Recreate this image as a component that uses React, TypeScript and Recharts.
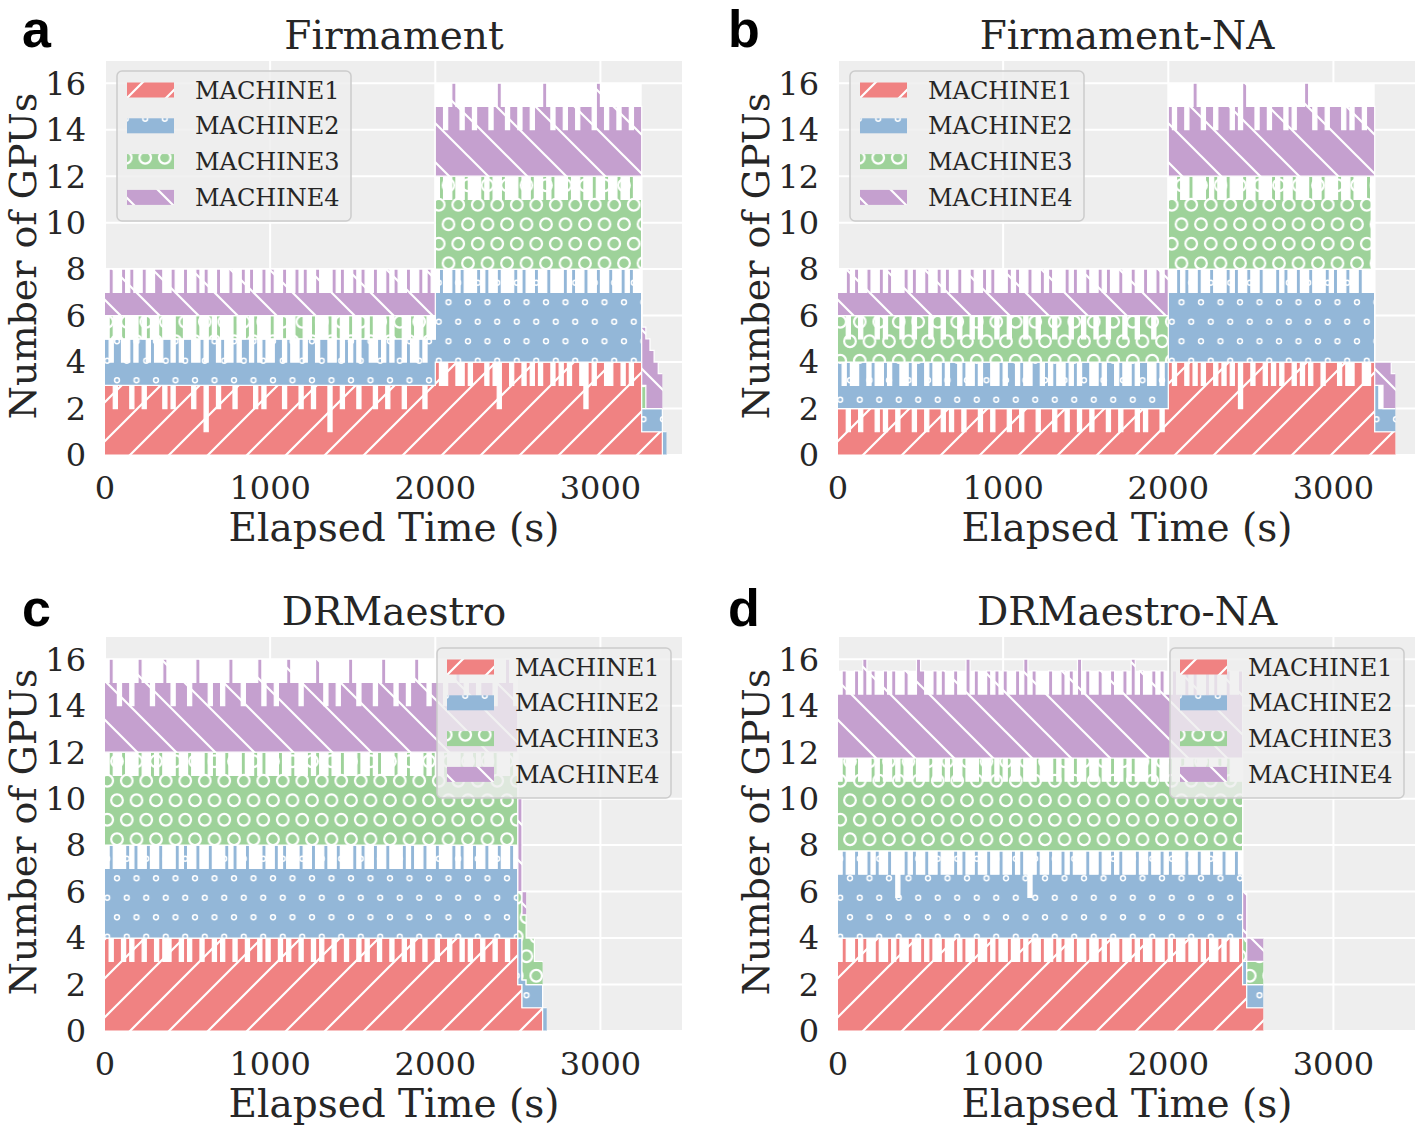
import React from 'react';
import { AreaChart, Area, XAxis, YAxis, CartesianGrid } from 'recharts';

const STEP = 25;
const X_TICKS = [0, 1000, 2000, 3000];
const Y_TICKS = [0, 2, 4, 6, 8, 10, 12, 14, 16];
const MACHINES = ['MACHINE1', 'MACHINE2', 'MACHINE3', 'MACHINE4'];
const COLORS = ['#F08282', '#93B7D8', '#9ED29A', '#C5A0CF'];
const TITLES = ['Firmament', 'Firmament-NA', 'DRMaestro', 'DRMaestro-NA'];
const LETTERS = ['a', 'b', 'c', 'd'];

// ---------- Panel a: Firmament (top of each machine band, every 25 s) ----------
const A_M1 = [
  3,3,2,3,3,3,2,3,3,2, 3,3,3,3,2,3,2,3,3,3, 3,2,3,3,1,3,3,2,3,3, 3,2,3,3,3,3,2,3,2,3,
  3,3,3,2,3,3,3,2,3,3, 2,3,3,3,1,3,3,2,3,3, 3,2,3,3,3,2,3,3,2,3, 3,3,2,3,3,3,3,2,3,3,
  4,3,3,4,4,3,3,4,3,4, 4,4,3,4,3,2,4,4,3,4, 4,3,4,3,4,3,4,4,3,4, 3,4,3,4,4,3,2,4,3,4,
  4,3,3,4,4,3,4,3,4,4,
  1,1,1,1,1,1,null,
];
const A_M2 = [
  5,4,5,5,4,4,5,4,5,5, 4,5,4,4,5,5,4,5,4,5, 5,4,4,5,4,5,5,4,5,4, 4,5,4,5,5,4,5,4,5,4,
  4,5,5,4,5,4,4,5,4,5, 5,4,5,5,4,4,5,4,5,4, 5,4,5,5,4,4,5,4,5,4, 5,5,4,5,4,4,5,4,5,5,
  7,8,7,7,8,7,8,7,7,7, 8,7,8,7,7,8,7,7,7,8, 7,8,7,7,8,7,7,8,7,7, 7,8,7,8,7,7,8,7,7,8,
  7,7,8,7,7,8,7,8,7,7,
  2,2,2,2,2,1,1,
];
const A_M3 = [
  5,6,5,5,6,5,5,5,6,5, 6,5,5,6,5,5,5,6,6,5, 5,5,6,5,5,6,5,6,5,5, 5,6,5,5,6,5,6,5,5,5,
  6,5,5,6,5,5,6,6,5,5, 6,5,5,5,6,5,6,5,5,6, 5,5,6,5,6,5,5,5,6,5, 6,6,5,5,6,5,5,6,5,5,
  11,12,11,11,12,11,11,12,11,11, 11,12,11,12,11,11,12,11,11,11, 12,11,11,12,11,11,12,11,12,11,
  11,11,12,11,11,12,11,11,12,11, 11,12,11,11,12,11,11,12,11,11,
  3,3,null,null,null,null,null,
];
const A_M4 = [
  7,8,7,7,8,7,8,7,7,8, 7,7,8,8,7,7,8,7,7,8, 7,7,8,7,8,7,7,8,7,7, 8,7,7,8,7,8,7,7,8,7,
  8,7,7,8,7,7,8,7,8,7, 7,8,7,7,7,8,7,8,7,7, 8,7,8,7,7,8,7,7,8,7, 8,7,7,8,7,7,8,7,8,7,
  15,15,14,15,16,15,14,15,15,14, 15,15,15,14,15,16,15,14,15,15, 14,15,15,14,15,15,16,15,14,15,
  15,14,15,15,14,15,15,15,14,16, 15,14,15,15,14,15,15,14,15,15,
  5.5,5,4.5,4,3.5,3.5,null,
];
// band bottoms as [time, value] change points
const A_LO = [[[0, 0]], [[0, 3], [2000, 4], [3250, 1], [3375, 0]], [[0, 5], [2000, 8], [3250, 2]], [[0, 6], [2000, 12], [3250, 3], [3275, 2]]];
const A_UNDER = [[0, 8], [2000, 16], [3250, 5.5], [3275, 5], [3300, 4.5], [3325, 4], [3350, 3.5], [3375, 1]];

// ---------- Panel b: Firmament-NA ----------
const B_M1 = [
  2,2,1,2,2,1,2,2,2,1, 2,1,2,2,1,2,2,2,1,2, 2,1,2,2,2,1,2,1,2,2, 1,2,2,2,1,2,2,1,2,2,
  2,1,2,2,1,2,2,2,1,2, 2,2,1,2,2,1,2,2,1,2, 2,1,2,2,2,1,2,2,1,2, 2,2,1,2,1,2,2,2,1,2,
  4,3,4,4,3,4,3,4,3,4, 4,3,4,3,4,3,4,2,4,4, 3,4,4,3,4,3,4,3,4,4, 3,4,3,4,3,4,4,3,4,4,
  4,3,4,3,3,4,4,3,3,4,
  1,1,1,1,1,1,null,
];
const B_M2 = [
  4,3,4,3,3,4,4,3,4,3, 3,4,3,4,4,3,3,4,3,4, 4,3,4,3,3,4,3,4,4,3, 4,3,3,4,3,4,4,3,3,4,
  3,4,4,3,4,3,3,4,4,3, 4,3,4,3,3,4,3,4,3,4, 4,3,3,4,3,4,4,3,4,3, 3,4,3,4,4,3,3,4,3,4,
  7,7,8,7,8,7,7,8,7,7, 8,7,7,7,8,7,8,7,7,8, 7,7,8,7,7,7,8,7,8,7, 7,8,7,7,8,7,7,7,8,7,
  8,7,7,8,7,7,8,7,7,7,
  3,2,2,2,2,2,null,
];
const B_M3 = [
  6,6,5,6,6,5,6,6,6,5, 6,5,6,6,6,5,6,6,5,6, 6,6,5,6,6,5,6,6,6,5, 6,6,5,6,5,6,6,6,5,6,
  6,5,6,6,6,5,6,6,5,6, 6,6,5,6,6,6,5,6,6,5, 6,6,5,6,6,5,6,6,6,5, 6,6,5,6,6,6,5,6,6,6,
  11,11,12,11,11,12,11,11,11,12, 11,12,11,11,12,11,11,11,12,11, 11,12,11,11,11,12,11,12,11,11,
  12,11,11,11,12,11,11,12,11,11, 11,12,11,11,12,11,11,11,12,11,
  null,null,null,null,null,null,null,
];
const B_M4 = [
  7,7,8,7,8,7,7,8,7,7, 8,7,8,7,7,7,8,7,8,7, 7,8,7,7,8,7,8,7,7,8, 7,7,8,7,7,8,7,8,7,7,
  7,8,7,8,7,7,8,7,7,8, 7,8,7,7,7,8,7,8,7,7, 8,7,7,8,7,8,7,7,8,7, 7,8,7,7,8,7,7,8,7,8,
  15,14,15,15,14,15,16,15,14,15, 15,14,15,15,15,14,15,14,16,15, 15,14,15,15,14,15,15,15,14,15,
  14,15,15,16,15,14,15,15,14,15, 15,15,14,15,14,15,15,14,15,15,
  4,4,4,4,3.5,3.5,null,
];
const B_LO = [[[0, 0]], [[0, 2], [2000, 4], [3250, 1]], [[0, 4], [2000, 8]], [[0, 6], [2000, 12], [3250, 3], [3300, 2]]];
const B_UNDER = [[0, 8], [2000, 16], [3250, 4], [3350, 3.5]];

// ---------- Panel c: DRMaestro ----------
const C_M1 = [
  4,3,4,4,3,4,3,4,4,3, 4,4,3,4,3,3,4,4,3,4, 3,4,4,3,4,4,3,4,3,4, 4,3,4,4,3,4,4,3,4,3,
  4,4,3,4,3,4,4,3,4,4, 3,4,3,4,4,3,4,4,3,4, 4,3,4,3,4,4,3,4,4,3, 4,4,3,4,3,4,4,3,4,4,
  3,4,4,3,4,4,3,4,3,4, 4,3,4,4,3,4,4,3,4,4,
  2,1,1,1,1,1,1,null,
];
const C_M2 = [
  7,8,7,7,7,8,7,8,7,7, 8,7,7,8,7,7,7,8,7,8, 7,7,8,7,7,8,7,7,7,8, 7,8,7,7,8,7,7,7,8,7,
  7,8,7,8,7,7,7,8,7,7, 8,7,7,8,7,7,8,7,7,7, 8,7,8,7,7,8,7,7,8,7, 7,7,8,7,8,7,7,8,7,7,
  8,7,7,7,8,7,8,7,7,8, 7,7,8,7,7,8,7,7,8,7,
  4,2.2,2,2,2,2,1,1,
];
const C_M3 = [
  11,12,11,11,12,11,11,11,12,11, 11,12,11,12,11,11,11,12,11,11, 12,11,11,11,12,11,12,11,11,12,
  11,11,11,12,11,11,12,11,12,11, 11,11,12,11,11,12,11,11,11,12, 11,12,11,11,12,11,11,12,11,11,
  11,12,11,11,12,11,12,11,11,11, 12,11,11,12,11,11,11,12,11,12, 11,11,12,11,11,11,12,11,11,12,
  11,12,11,11,12,11,11,11,12,11,
  6,5,4,4,3,3,3,null,
];
const C_M4 = [
  15,16,15,14,15,15,14,15,16,15, 15,14,15,15,16,15,14,15,15,15, 14,15,16,15,15,14,15,15,14,15,
  16,15,15,14,15,15,15,16,14,15, 15,14,15,15,16,15,15,14,15,15, 15,16,15,14,15,15,14,15,15,16,
  15,14,15,15,15,14,15,16,15,15, 14,15,15,14,15,16,15,15,14,15, 15,15,14,15,15,16,15,14,15,15,
  14,15,15,15,14,15,15,16,15,14,
  10,6,6,null,null,null,null,null,
];
const C_LO = [[[0, 0]], [[0, 4], [2500, 2], [2525, 1], [2650, 0]], [[0, 8], [2500, 4], [2525, 2.2], [2550, 2]], [[0, 12], [2500, 6], [2525, 5]]];
const C_UNDER = [[0, 16], [2500, 10], [2525, 6], [2550, 4], [2600, 3], [2650, 1]];

// ---------- Panel d: DRMaestro-NA ----------
const D_M1 = [
  3,4,3,3,4,3,4,3,3,4, 3,3,4,3,4,3,3,4,3,3, 4,3,4,3,3,4,3,3,4,3, 4,3,3,4,3,3,4,3,4,3,
  3,4,3,3,4,3,4,3,3,4, 3,3,4,3,4,3,3,4,3,3, 4,3,3,4,3,4,3,3,4,3, 3,4,3,4,3,3,4,3,3,4,
  3,4,3,3,4,3,3,4,3,4, 3,3,4,3,4,3,3,4,
  2,1,1,1,1,1,
];
const D_M2 = [
  6.75,7.75,6.75,6.75,7.75,6.75,6.75,7.75,6.75,7.75, 6.75,6.75,7.75,6.75,5.75,6.75,7.75,6.75,7.75,6.75,
  6.75,7.75,6.75,6.75,7.75,6.75,6.75,6.75,7.75,6.75, 7.75,6.75,6.75,7.75,6.75,6.75,7.75,6.75,6.75,7.75,
  6.75,6.75,7.75,6.75,7.75,6.75,5.75,6.75,7.75,6.75, 6.75,7.75,6.75,6.75,7.75,6.75,7.75,6.75,6.75,6.75,
  7.75,6.75,6.75,7.75,6.75,6.75,7.75,6.75,7.75,6.75, 6.75,6.75,7.75,6.75,6.75,7.75,6.75,6.75,7.75,6.75,
  7.75,6.75,6.75,6.75,7.75,6.75,6.75,7.75,6.75,6.75, 7.75,6.75,6.75,7.75,6.75,6.75,7.75,6.75,
  3,2,2,2,2,2,
];
const D_M3 = [
  10.75,11.75,10.75,10.75,11.75,10.75,10.75,10.75,11.75,10.75, 11.75,10.75,10.75,11.75,10.75,11.75,10.75,10.75,11.75,10.75,
  10.75,10.75,11.75,10.75,10.75,11.75,10.75,11.75,10.75,10.75, 11.75,10.75,10.75,10.75,11.75,10.75,10.75,11.75,10.75,11.75,
  10.75,11.75,10.75,10.75,11.75,10.75,10.75,10.75,11.75,10.75, 10.75,10.75,11.75,10.75,11.75,10.75,10.75,11.75,10.75,10.75,
  11.75,10.75,10.75,11.75,10.75,10.75,11.75,10.75,10.75,11.75, 10.75,11.75,10.75,10.75,10.75,11.75,10.75,11.75,10.75,10.75,
  11.75,10.75,10.75,11.75,10.75,10.75,11.75,10.75,10.75,11.75, 10.75,10.75,11.75,10.75,11.75,10.75,10.75,10.75,
  4,3,3,3,3,3,
];
const D_M4 = [
  14.5,15.5,14.5,14.5,15.5,14.5,16,14.5,15.5,14.5, 14.5,15.5,14.5,15.5,14.5,14.5,15.5,14.5,14.5,16,
  15.5,14.5,14.5,15.5,14.5,15.5,14.5,14.5,15.5,14.5, 14.5,16,14.5,15.5,14.5,14.5,15.5,14.5,15.5,14.5,
  15.5,14.5,14.5,15.5,14.5,16,14.5,15.5,14.5,14.5, 14.5,15.5,14.5,14.5,15.5,14.5,15.5,14.5,16,14.5,
  15.5,14.5,14.5,15.5,14.5,14.5,15.5,14.5,14.5,15.5, 14.5,16,14.5,15.5,14.5,14.5,15.5,14.5,15.5,14.5,
  14.5,15.5,14.5,14.5,16,14.5,15.5,14.5,14.5,15.5, 14.5,15.5,14.5,14.5,15.5,14.5,14.5,15.5,
  6,4,4,4,4,4,
];
const D_LO = [[[0, 0]], [[0, 4], [2450, 2], [2475, 1]], [[0, 7.75], [2450, 3], [2475, 2]], [[0, 11.75], [2450, 4], [2475, 3]]];
const D_UNDER = [[0, 15.5], [2450, 6], [2475, 4]];

const PANELS = [
  { id: 'a', left: 0, top: 0, hi: [A_M1, A_M2, A_M3, A_M4], lo: A_LO, under: A_UNDER, underEnd: 3375, legend: [117, 71] },
  { id: 'b', left: 733, top: 0, hi: [B_M1, B_M2, B_M3, B_M4], lo: B_LO, under: B_UNDER, underEnd: 3375, legend: [117, 71] },
  { id: 'c', left: 0, top: 576, hi: [C_M1, C_M2, C_M3, C_M4], lo: C_LO, under: C_UNDER, underEnd: 2675, legend: [437, 72] },
  { id: 'd', left: 733, top: 576, hi: [D_M1, D_M2, D_M3, D_M4], lo: D_LO, under: D_UNDER, underEnd: 2575, legend: [437, 72] },
];

function lookup(changes: number[][], t: number): number {
  let v = changes[0][1];
  for (const c of changes) if (t >= c[0]) v = c[1];
  return v;
}

function buildRows(p: any) {
  const n = p.hi[0].length;
  const rows: any[] = [];
  for (let i = 0; i < n; i++) {
    const t = i * STEP;
    const row: any = { t };
    row.u = t <= p.underEnd ? [0, lookup(p.under, t)] : null;
    p.hi.forEach((h: (number | null)[], k: number) => {
      const v = h[i];
      row['m' + k] = v == null ? null : [lookup(p.lo[k], t), v];
    });
    rows.push(row);
  }
  return rows;
}

function patterns(prefix: string) {
  return [
    <pattern key="p0" id={prefix + '0'} patternUnits="userSpaceOnUse" width={39} height={39}>
      <rect width={39} height={39} fill={COLORS[0]} />
      <path d="M-9.75,9.75L9.75,-9.75M0,39L39,0M29.25,48.75L48.75,29.25" stroke="#fff" strokeWidth={2.2} />
    </pattern>,
    <pattern key="p1" id={prefix + '1'} patternUnits="userSpaceOnUse" width={19.5} height={39}>
      <rect width={19.5} height={39} fill={COLORS[1]} />
      <circle cx={9.75} cy={9.75} r={2.4} fill="none" stroke="#fff" strokeWidth={1.5} />
      <circle cx={0} cy={29.25} r={2.4} fill="none" stroke="#fff" strokeWidth={1.5} />
      <circle cx={19.5} cy={29.25} r={2.4} fill="none" stroke="#fff" strokeWidth={1.5} />
    </pattern>,
    <pattern key="p2" id={prefix + '2'} patternUnits="userSpaceOnUse" width={19.5} height={39}>
      <rect width={19.5} height={39} fill={COLORS[2]} />
      <circle cx={9.75} cy={9.75} r={5.8} fill="none" stroke="#fff" strokeWidth={2.2} />
      <circle cx={0} cy={29.25} r={5.8} fill="none" stroke="#fff" strokeWidth={2.2} />
      <circle cx={19.5} cy={29.25} r={5.8} fill="none" stroke="#fff" strokeWidth={2.2} />
    </pattern>,
    <pattern key="p3" id={prefix + '3'} patternUnits="userSpaceOnUse" width={39} height={39}>
      <rect width={39} height={39} fill={COLORS[3]} />
      <path d="M-9.75,29.25L9.75,48.75M0,0L39,39M29.25,-9.75L48.75,9.75" stroke="#fff" strokeWidth={2.2} />
    </pattern>,
  ];
}

const TICK_STYLE = { fontSize: 32, fill: '#262626', fontFamily: 'DejaVu Serif' };

function LegendBox({ id, x, y }: { id: string; x: number; y: number }) {
  const pre = 'lg' + id;
  return (
    <svg width={238} height={154} style={{ position: 'absolute', left: x - 1, top: y - 1 }}>
      <defs>{patterns(pre)}</defs>
      <rect x={1} y={1} width={234} height={150} rx={5} fill="rgba(238,238,238,0.8)" stroke="#CCCCCC" strokeWidth={1.5} />
      {MACHINES.map((m, k) => (
        <g key={m}>
          <rect x={11} y={1 + 19 + k * 35.8 - 7.5} width={47} height={15} fill={`url(#${pre}${k})`} />
          <text x={79} y={1 + 19 + k * 35.8 + 8.6} fontSize={24} fontFamily="DejaVu Serif" fill="#262626">{m}</text>
        </g>
      ))}
    </svg>
  );
}

function Panel({ p }: { p: any }) {
  const rows = buildRows(p);
  const pre = 'pat' + p.id;
  return (
    <div style={{ position: 'absolute', left: p.left, top: p.top, width: 683, height: 576 }}>
      <AreaChart width={683} height={576} data={rows} margin={{ top: 60, right: 0, bottom: 0, left: 0 }}>
        <defs>{patterns(pre)}</defs>
        <CartesianGrid stroke="#fff" strokeWidth={2} fill="#EEEEEE" fillOpacity={1} />
        <XAxis type="number" dataKey="t" domain={[0, 3500]} ticks={X_TICKS} interval={0} height={121}
          axisLine={false} tickLine={false} tickSize={0} tickMargin={21} tick={TICK_STYLE} />
        <YAxis type="number" domain={[0, 17]} ticks={Y_TICKS} interval={0} width={105}
          axisLine={false} tickLine={false} tickSize={0} tickMargin={19} tick={TICK_STYLE} />
        <Area dataKey="u" type="stepAfter" fill="#ffffff" fillOpacity={1} stroke="none"
          isAnimationActive={false} dot={false} activeDot={false} />
        {[0, 1, 2, 3].map((k) => (
          <Area key={k} dataKey={'m' + k} type="stepAfter" fill={`url(#${pre}${k})`} fillOpacity={1}
            stroke="#ffffff" strokeWidth={1.2} isAnimationActive={false} dot={false} activeDot={false} />
        ))}
      </AreaChart>
      <LegendBox id={p.id} x={p.legend[0]} y={p.legend[1]} />
    </div>
  );
}

function Labels() {
  const spots = [[0, 0], [733, 0], [0, 576], [733, 576]];
  const letterX = [22, 728, 22, 728];
  const letterY = [47, 47, 626, 626];
  return (
    <svg width={1416} height={1126} style={{ position: 'absolute', left: 0, top: 0, pointerEvents: 'none' }}>
      {spots.map(([ox, oy], i) => (
        <g key={i}>
          <text x={letterX[i]} y={letterY[i]} fontSize={52} fontWeight="bold" fontFamily="Liberation Sans, Arial, sans-serif" fill="#000">{LETTERS[i]}</text>
          <text x={ox + 394} y={oy + 49} fontSize={39} textAnchor="middle" fontFamily="DejaVu Serif" fill="#262626">{TITLES[i]}</text>
          <text x={ox + 394} y={oy + 541} fontSize={39} textAnchor="middle" fontFamily="DejaVu Serif" fill="#262626">Elapsed Time (s)</text>
          <text x={0} y={0} fontSize={38} textAnchor="middle" fontFamily="DejaVu Serif" fill="#262626"
            transform={`translate(${ox + 36},${oy + 256}) rotate(-90)`}>Number of GPUs</text>
        </g>
      ))}
    </svg>
  );
}

export default function App() {
  return (
    <div style={{ position: 'absolute', left: 0, top: 0, width: 1416, height: 1126, background: '#fff', overflow: 'hidden' }}>
      {PANELS.map((p) => <Panel key={p.id} p={p} />)}
      <Labels />
    </div>
  );
}
